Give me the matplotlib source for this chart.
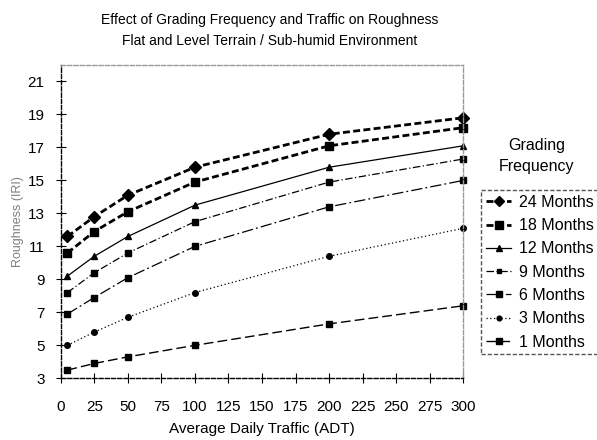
import matplotlib
matplotlib.use("Agg")
import matplotlib.pyplot as plt

plt.rcParams['font.family'] = ['Liberation Sans', 'DejaVu Sans']

# average daily traffic
adt = [5, 25, 50, 100, 200, 300]

# roughness (IRI) per grading frequency
m24 = [11.6, 12.8, 14.1, 15.8, 17.8, 18.8]
m18 = [10.6, 11.9, 13.1, 14.9, 17.1, 18.2]
m12 = [9.2, 10.4, 11.6, 13.5, 15.8, 17.1]
m9 = [8.2, 9.4, 10.6, 12.5, 14.9, 16.3]
m6 = [6.9, 7.9, 9.1, 11.0, 13.4, 15.0]
m3 = [5.0, 5.8, 6.7, 8.2, 10.4, 12.1]
m1 = [3.5, 3.9, 4.3, 5.0, 6.3, 7.4]

labels = ["24 Months", "18 Months", "12 Months", "9 Months",
          "6 Months", "3 Months", "1 Months"]
series = [m24, m18, m12, m9, m6, m3, m1]

styles = [
    dict(ls=(0, (2.5, 1.2)), lw=2.0, marker="D", ms=6.5),
    dict(ls=(0, (2.5, 1.2)), lw=2.0, marker="s", ms=6),
    dict(ls="-", lw=0.9, marker="^", ms=4.5),
    dict(ls=(0, (6, 2, 1, 2)), lw=0.9, marker="s", ms=4),
    dict(ls=(0, (9, 2.5, 1.5, 2.5)), lw=0.9, marker="s", ms=5),
    dict(ls=(0, (1, 2)), lw=0.9, marker="o", ms=4),
    dict(ls=(0, (7, 3)), lw=1.0, marker="s", ms=5),
]

fig = plt.figure(figsize=(5.97, 4.40), dpi=100)
ax = fig.add_axes([0.1017, 0.1402, 0.6744, 0.7121])

for lab, ys, st in zip(labels, series, styles):
    ax.plot(adt, ys, color="black", label=lab, linestyle=st["ls"],
            linewidth=st["lw"], marker=st["marker"], markersize=st["ms"],
            markerfacecolor="black", markeredgecolor="black", clip_on=False)

ax.set_xlim(0, 300)
ax.set_ylim(3, 22)
ax.set_xticks(range(0, 301, 25))
ax.set_yticks(range(3, 22, 2))
ax.tick_params(direction="inout", length=7, width=0.8, labelsize=11)
ax.tick_params(axis="x", pad=12)
ax.tick_params(axis="y", pad=8)

for side in ["left", "bottom"]:
    ax.spines[side].set_linestyle((0, (3, 1.5)))
    ax.spines[side].set_color("black")
    ax.spines[side].set_linewidth(1.0)
for side in ["top", "right"]:
    ax.spines[side].set_linestyle((0, (3, 1.5)))
    ax.spines[side].set_color("#999999")
    ax.spines[side].set_linewidth(1.0)

ax.set_xlabel("Average Daily Traffic (ADT)", fontsize=11, labelpad=6)
ax.set_ylabel("Roughness (IRI)", fontsize=9, color="#808080", labelpad=3)

fig.text(270 / 597, 1 - 20 / 440, "Effect of Grading Frequency and Traffic on Roughness",
         ha="center", va="center", fontsize=10)
fig.text(270 / 597, 1 - 41 / 440, "Flat and Level Terrain / Sub-humid Environment",
         ha="center", va="center", fontsize=10)

fig.text(537 / 597, 1 - 145 / 440, "Grading", ha="center", va="center", fontsize=11.5)
fig.text(537 / 597, 1 - 166 / 440, "Frequency", ha="center", va="center", fontsize=11.5)

leg = ax.legend(loc="upper left", bbox_to_anchor=(481 / 597, 1 - 190 / 440),
                bbox_transform=fig.transFigure, borderaxespad=0, fontsize=11.5,
                handlelength=1.6, handletextpad=0.45, labelspacing=0.52,
                borderpad=0.3, fancybox=False, framealpha=1, markerscale=0.85)
leg.get_frame().set_linestyle((0, (3, 1.5)))
leg.get_frame().set_edgecolor("#555555")
leg.get_frame().set_linewidth(1.0)

fig.savefig("out.png", dpi=100)
